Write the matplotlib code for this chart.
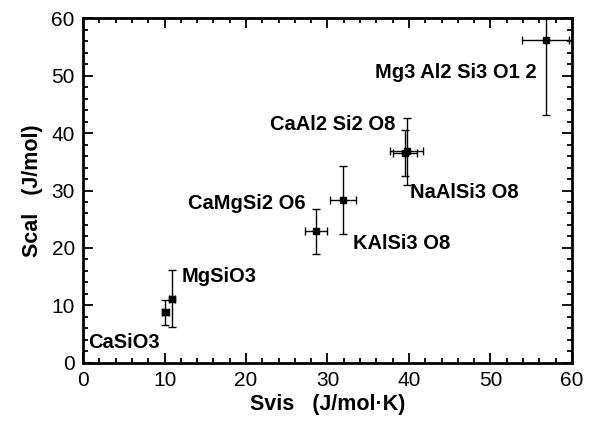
import numpy as np
import matplotlib.pyplot as plt
from matplotlib.ticker import MultipleLocator

# data
names = ["CaSiO3", "MgSiO3", "CaMgSi2 O6", "KAlSi3 O8",
         "CaAl2 Si2 O8", "NaAlSi3 O8", "Mg3 Al2 Si3 O1 2"]
svis = [10.1, 10.9, 28.6, 31.9, 39.7, 39.5, 56.8]
svis_err = [0.4, 0.4, 1.4, 1.6, 2.0, 1.5, 2.9]
scal = [8.8, 11.2, 22.9, 28.3, 36.8, 36.6, 56.2]
scal_err = [2.2, 5.0, 3.9, 5.9, 5.9, 4.0, 13.0]

# label anchor (left x, centre y) in data units
label_x = [0.6, 12.1, 12.9, 33.1, 22.9, 40.1, 35.8]
label_y = [3.6, 15.0, 27.8, 20.8, 41.5, 29.7, 50.5]

plt.rcParams['font.family'] = ['Liberation Sans', 'DejaVu Sans']

fig = plt.figure(figsize=(6.11, 4.21), dpi=100)
ax = fig.add_axes([0.136, 0.138, 0.800, 0.819])

ax.errorbar(svis, scal, xerr=svis_err, yerr=scal_err, fmt='s', color='black',
            markersize=5, elinewidth=1, capsize=3, capthick=1)

for n, x, y in zip(names, label_x, label_y):
    ax.text(x, y, n, fontsize=14.5, fontweight='bold', ha='left', va='center')

ax.set_xlim(0, 60)
ax.set_ylim(0, 60)
ax.xaxis.set_major_locator(MultipleLocator(10))
ax.yaxis.set_major_locator(MultipleLocator(10))
ax.xaxis.set_minor_locator(MultipleLocator(2))
ax.yaxis.set_minor_locator(MultipleLocator(2))
ax.tick_params(which='both', direction='in', top=True, right=True, width=1.3)
ax.tick_params(which='major', length=7, labelsize=15, pad=6)
ax.tick_params(which='minor', length=3.5)
for s in ax.spines.values():
    s.set_linewidth(2)

ax.set_xlabel("Svis   (J/mol\u00b7K)", fontsize=15.5, fontweight='bold', labelpad=3)
ax.set_ylabel("Scal   (J/mol)", fontsize=15.5, fontweight='bold', labelpad=6)

fig.savefig("out.png", dpi=100)
